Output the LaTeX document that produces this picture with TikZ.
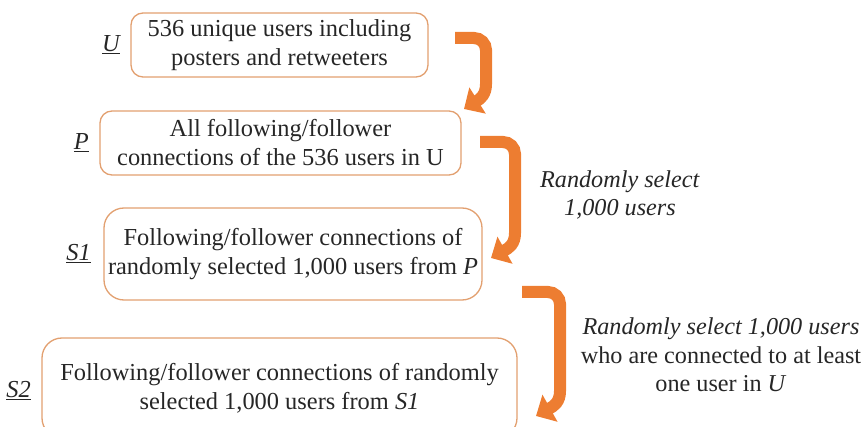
\documentclass[tikz,border=0pt]{standalone}
\usepackage{fontspec}
\setmainfont{LiberationSerif}[Extension=.ttf, UprightFont=*-Regular, ItalicFont=*-Italic, BoldFont=*-Bold, BoldItalicFont=*-BoldItalic]
\usetikzlibrary{arrows.meta}
\definecolor{boxline}{RGB}{226,160,112}
\definecolor{flow}{RGB}{237,125,49}
\tikzset{
  stage/.style={draw=boxline, line width=1.3pt, align=center, inner sep=0pt,
    font=\fontsize{24.4}{29}\selectfont, text=black!85},
  tag/.style={font=\fontsize{24.4}{29}\selectfont\itshape, text=black!85},
  note/.style={font=\fontsize{24.2}{28.5}\selectfont, align=center, text=black!85},
  flowarrow/.style={draw=flow, line width=12pt,
    -{Triangle[length=16pt,width=30pt]}},
}
\begin{document}
\begin{tikzpicture}[x=1pt,y=-1pt]
\useasboundingbox (0,0) rectangle (865,427);
\clip (0,0) rectangle (865,427);

% stage boxes
\node[stage, rounded corners=12pt, minimum width=297pt, minimum height=64pt] (U) at (279.5,45)
  {536 unique users including\\posters and retweeters};
\node[stage, rounded corners=12pt, minimum width=361pt, minimum height=64pt] (P) at (280.5,143)
  {All following/follower\\connections of the 536 users in U};
\node[stage, rounded corners=20pt, minimum width=378pt, minimum height=92pt] (S1) at (293,254)
  {Following/follower connections of\\randomly selected 1,000 users from \textit{P}};
\node[stage, rounded corners=20pt, minimum width=475pt, minimum height=100pt] (S2) at (279.5,388)
  {Following/follower connections of randomly\\selected 1,000 users from \textit{S1}};

% set labels
\node[tag, anchor=east] (tU) at ([xshift=-7pt]U.west) {\underline{U}};
\node[tag, anchor=east] (tP) at ([xshift=-7pt]P.west) {\underline{P}};
\node[tag, anchor=east] (tS1) at ([xshift=-9pt]S1.west) {\underline{S1}};
\node[tag, anchor=east] (tS2) at ([xshift=-7pt,yshift=-3pt]S2.west) {\underline{S2}};

% step notes
\node[note] (n1) at (620,195) {\textit{Randomly select}\\\textit{1,000 users}};
\node[note] (n2) at (721,355) {\textit{Randomly select 1,000 users}\\who are connected to at least\\one user in \textit{U}};

% flow arrows between stages
\coordinate (a1s) at (455,38);
\coordinate (a1e) at (464,109);
\draw[flowarrow] (a1s) -- (474,38) arc[start angle=-90,end angle=0,radius=12]
  -- (486,84) .. controls (486,95) and (480,99) .. (a1e);
\coordinate (a2s) at (480,142);
\coordinate (a2e) at (491,258);
\draw[flowarrow] (a2s) -- (503,142) arc[start angle=-90,end angle=0,radius=12]
  -- (515,233) .. controls (515,244) and (509,248) .. (a2e);
\coordinate (a3s) at (522,292);
\coordinate (a3e) at (536,416);
\draw[flowarrow] (a3s) -- (548,292) arc[start angle=-90,end angle=0,radius=12]
  -- (560,391) .. controls (560,402) and (554,406) .. (a3e);
\end{tikzpicture}
\end{document}
